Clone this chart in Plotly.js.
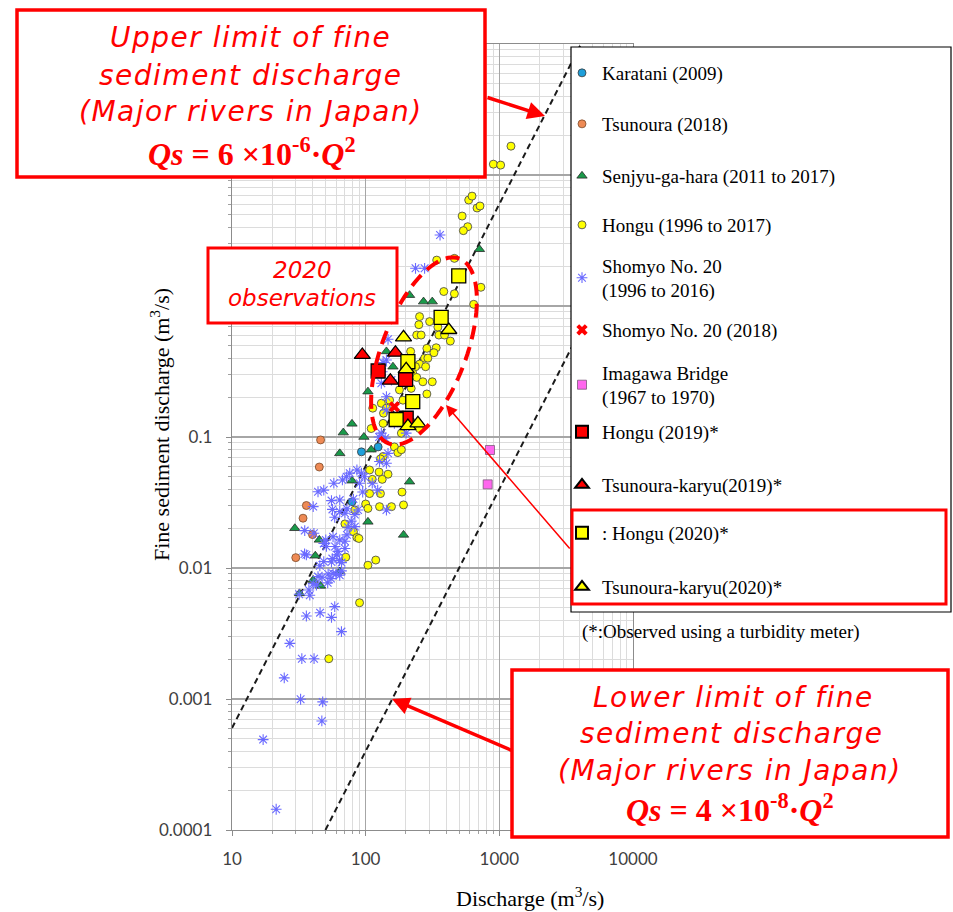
<!DOCTYPE html>
<html><head><meta charset="utf-8">
<script src="https://cdn.plot.ly/plotly-3.0.1.min.js"></script>
<style>html,body{margin:0;padding:0;background:#fff}#chart{width:953px;height:912px}</style>
</head><body><div id="chart"></div>
<script>
// ---------------- DATA ----------------
const seriesNames = [
  'Karatani (2009)', 'Tsunoura (2018)', 'Senjyu-ga-hara (2011 to 2017)', 'Hongu (1996 to 2017)',
  'Shomyo No. 20<br>(1996 to 2016)', 'Shomyo No. 20 (2018)', 'Imagawa Bridge<br>(1967 to 1970)',
  'Hongu (2019)*', 'Tsunoura-karyu(2019)*', ': Hongu (2020)*', 'Tsunoura-karyu(2020)*'
];

const karataniQ  = [93, 124, 79];
const karataniQs = [0.077, 0.084, 0.032];

const tsunouraQ  = [46, 45, 36, 34, 40, 30];
const tsunouraQs = [0.095, 0.059, 0.030, 0.024, 0.018, 0.012];

const senjyuQ  = [710, 213, 271, 315, 143, 160, 104, 79, 68, 97, 64, 110, 213, 192, 104, 29.5, 45, 42, 64, 79, 40.5, 46, 32];
const senjyuQs = [2.71, 1.21, 1.08, 1.08, 0.45, 0.344, 0.222, 0.126, 0.108, 0.10, 0.075, 0.08, 0.0456, 0.0179, 0.0225, 0.0201, 0.0164, 0.0124, 0.0094, 0.0464, 0.0081, 0.0073, 0.0064];

const honguQ  = [1222, 902, 1023, 590, 625, 681, 717, 527, 580, 538, 340, 461, 728, 384, 461, 643, 253, 250, 301, 347,
  241, 260, 353, 389, 430, 217, 287, 337, 324, 276, 292, 253, 236, 281, 225, 241, 268, 315, 179, 219,
  287, 190, 151, 131, 113, 143, 136, 190, 135, 110, 185, 219, 253, 164, 174, 185, 135, 129, 107, 126,
  147, 112, 133, 107, 129, 187, 100, 104, 83, 127, 156, 192, 70, 81, 86, 89, 71, 119, 104, 90, 53];
const honguQs = [16.6, 12.1, 11.9, 6.44, 6.9, 5.6, 5.8, 4.86, 4.03, 3.76, 2.24, 2.31, 1.39, 1.29, 1.24, 1.03, 0.83, 0.72, 0.76, 0.69,
  0.60, 0.60, 0.60, 0.60, 0.54, 0.45, 0.475, 0.48, 0.44, 0.40, 0.40, 0.36, 0.344, 0.344, 0.306, 0.285, 0.264, 0.264, 0.229, 0.235,
  0.213, 0.191, 0.191, 0.181, 0.166, 0.166, 0.152, 0.147, 0.127, 0.116, 0.107, 0.131, 0.116, 0.084, 0.076, 0.080, 0.071, 0.068, 0.056, 0.054,
  0.052, 0.0475, 0.0475, 0.037, 0.037, 0.038, 0.0308, 0.0285, 0.0277, 0.0294, 0.0294, 0.0303, 0.0217, 0.0189, 0.0171, 0.0168, 0.0121, 0.0115, 0.0105, 0.00543, 0.00203];

const shomyoQ  = [17.1, 21.4, 24.6, 27.1, 32.6, 33.3, 41.1, 47.7, 47, 36, 45.6, 55.5, 58.7, 65.9, 38.2, 37.6, 47.2, 45.4, 55.5, 57,
  64, 42.8, 31.8, 44, 40.5, 52.4, 60, 65.9, 48.6, 56.3, 63.7, 50.9, 59, 62, 70, 61, 34.9, 48.6, 50.3, 57,
  64, 70, 72.4, 73.8, 83, 78, 83, 87.7, 58.7, 56.4, 64, 64, 70, 72.4, 40.5, 55.5, 44, 48.6, 57.8, 67,
  72, 76, 86, 93, 98, 90, 112, 81, 95, 123, 143, 127, 126, 143, 35, 41, 36, 66, 52, 55,
  147, 143, 133, 131, 143, 131, 147, 201, 164, 360, 236, 276, 143, 156, 135, 140];
const shomyoQs = [0.00049, 0.000144, 0.00145, 0.00266, 0.000996, 0.00203, 0.00203, 0.00095, 0.00068, 0.0043, 0.00456, 0.0042, 0.00507, 0.00327, 0.0062, 0.0068, 0.0085, 0.0104, 0.0111, 0.0091,
  0.0088, 0.0074, 0.0063, 0.0086, 0.0076, 0.009, 0.009, 0.0095, 0.0112, 0.0118, 0.0114, 0.0146, 0.0146, 0.0134, 0.0141, 0.0126, 0.0128, 0.0154, 0.0164, 0.0173,
  0.0164, 0.016, 0.0179, 0.0205, 0.0207, 0.0228, 0.0256, 0.0277, 0.0244, 0.028, 0.033, 0.027, 0.0262, 0.0283, 0.0294, 0.0327, 0.0382, 0.0393, 0.0444, 0.047,
  0.0497, 0.053, 0.056, 0.053, 0.0497, 0.0444, 0.0444, 0.0336, 0.038, 0.0393, 0.063, 0.065, 0.10, 0.0277, 0.0193, 0.0184, 0.0126, 0.011, 0.0077, 0.0083,
  0.557, 0.387, 0.315, 0.257, 0.161, 0.107, 0.075, 0.107, 0.127, 3.48, 1.94, 1.94, 0.203, 0.272, 0.37, 0.098];

const shomyo2018Q  = [164];
const shomyo2018Qs = [0.17];

const imagawaQ  = [851, 818];
const imagawaQs = [0.0796, 0.0435];

const hongu2019Q  = [124, 199, 201];
const hongu2019Qs = [0.319, 0.275, 0.139];

const tk2019Q  = [94.4, 167, 153];
const tk2019Qs = [0.423, 0.44, 0.269];

const hongu2020Q  = [497, 367, 207, 225, 169];
const hongu2020Qs = [1.70, 0.82, 0.376, 0.186, 0.136];

const tk2020Q  = [419, 192, 201, 207, 246];
const tk2020Qs = [0.656, 0.577, 0.329, 0.121, 0.127];

// limit lines: Qs = 6e-6 Q^2 and Qs = 4e-8 Q^2 (end points)
const upperQ  = [10, 4082];
const upperQs = [0.0006, 100];
const lowerQ  = [50, 10000];
const lowerQs = [0.0001, 4];

const xTickVals = [10, 100, 1000, 10000];
const xTickText = ['10', '100', '1000', '10000'];
const yTickVals = [0.0001, 0.001, 0.01, 0.1, 1, 10, 100];
const yTickText = ['0.0001', '0.001', '0.01', '0.1', '', '', ''];   // 1, 10, 100 hidden behind the callout boxes

// ---------------- LAYOUT HELPERS ----------------
const W = 953, H = 912;
const fx = p => p / W, fy = p => 1 - p / H;
const RED = '#ff0000';

const xMinor = [], yMinor = [];
[10, 100, 1000].forEach(d => { for (let m = 2; m <= 9; m++) xMinor.push(d * m); });
[1e-4, 1e-3, 1e-2, 1e-1, 1, 10].forEach(d => { for (let m = 2; m <= 9; m++) yMinor.push(+(d * m).toPrecision(3)); });

const legendIds = seriesNames.map((n, i) => i === 0 ? 'legend' : 'legend' + (i + 1));
const legendCenters = [73, 124, 176, 225, 278, 330, 385, 432, 485, 533, 587];

function sc(i, x, y, marker) {
  return { type: 'scatter', mode: 'markers', name: seriesNames[i], x: x, y: y, marker: marker,
           legend: legendIds[i], showlegend: true, hoverinfo: 'x+y+name', cliponaxis: true };
}
const dashLine = { color: '#1a1a1a', width: 2, dash: '6px,4px' };

const traces = [
  { type: 'scatter', mode: 'lines', x: upperQ, y: upperQs, line: dashLine, showlegend: false, hoverinfo: 'skip' },
  { type: 'scatter', mode: 'lines', x: lowerQ, y: lowerQs, line: dashLine, showlegend: false, hoverinfo: 'skip' },
  sc(0, karataniQ, karataniQs, { symbol: 'circle', size: 8, color: '#1e9fda', line: { color: '#3a3a3a', width: 0.8 } }),
  sc(1, tsunouraQ, tsunouraQs, { symbol: 'circle', size: 8, color: '#ee8a55', line: { color: '#7a4a2a', width: 0.8 } }),
  sc(2, senjyuQ, senjyuQs, { symbol: 'triangle-up', size: 9, color: '#1a9a4a', line: { color: '#2a2a2a', width: 0.8 } }),
  sc(3, honguQ, honguQs, { symbol: 'circle', size: 8, color: '#ffff00', line: { color: '#505050', width: 0.9 } }),
  sc(4, shomyoQ, shomyoQs, { symbol: 'asterisk-open', size: 9, color: '#6a6aff', line: { color: '#6a6aff', width: 1.1 } }),
  sc(5, shomyo2018Q, shomyo2018Qs, { symbol: 'x', size: 10, color: RED, line: { width: 0 } }),
  sc(6, imagawaQ, imagawaQs, { symbol: 'square', size: 9, color: '#ff66ee', line: { color: '#7a5a7a', width: 0.8 } }),
  sc(7, hongu2019Q, hongu2019Qs, { symbol: 'square', size: 14, color: RED, line: { color: '#000', width: 1.3 } }),
  sc(8, tk2019Q, tk2019Qs, { symbol: 'triangle-up', size: 14, color: RED, line: { color: '#000', width: 1.3 } }),
  sc(9, hongu2020Q, hongu2020Qs, { symbol: 'square', size: 14, color: '#ffff00', line: { color: '#000', width: 1.3 } }),
  sc(10, tk2020Q, tk2020Qs, { symbol: 'triangle-up', size: 14, color: '#ffff00', line: { color: '#000', width: 1.3 } })
];

// ellipse around 2020 observations (pixel geometry -> paper)
const ell = { cx: 424, cy: 351, a: 99, b: 42, th: 69 * Math.PI / 180 };
let ellPath = '';
for (let i = 0; i <= 96; i++) {
  const t = i / 96 * 2 * Math.PI;
  const X = ell.cx + ell.a * Math.cos(ell.th) * Math.cos(t) - ell.b * Math.sin(ell.th) * Math.sin(t);
  const Y = ell.cy - (ell.a * Math.sin(ell.th) * Math.cos(t) + ell.b * Math.cos(ell.th) * Math.sin(t));
  ellPath += (i ? 'L' : 'M') + fx(X).toFixed(5) + ',' + fy(Y).toFixed(5);
}
ellPath += 'Z';

function rect(x0, y0, x1, y1, color, width) {
  return { type: 'rect', xref: 'paper', yref: 'paper', x0: fx(x0), x1: fx(x1), y0: fy(y1), y1: fy(y0),
           fillcolor: '#ffffff', line: { color: color, width: width }, layer: 'above' };
}
const shapes = [
  { type: 'path', xref: 'paper', yref: 'paper', path: ellPath, line: { color: RED, width: 4, dash: '14px,8px' }, layer: 'above' },
  rect(17, 10, 485, 177, RED, 3.5),
  rect(208, 248, 397, 323, RED, 3),
  rect(512, 670, 948, 837, RED, 3.5),
  rect(571, 47, 951, 612, '#000000', 1.2),
  Object.assign(rect(572, 510, 946, 604, RED, 3), { fillcolor: 'rgba(0,0,0,0)' })
];

const popFont = s => ({ family: 'DejaVu Sans', size: s, color: RED, style: 'italic' });
const fmFont = s => ({ family: 'Liberation Serif', size: s, color: RED, weight: 'bold' });
function txt(px, py, text, font, extra) {
  return Object.assign({ xref: 'paper', yref: 'paper', x: fx(px), y: fy(py), text: text, showarrow: false,
                         xanchor: 'center', yanchor: 'middle', font: font }, extra || {});
}
const ls = s => '<span style="letter-spacing:1.5px">' + s + '</span>';
function arrow(hx, hy, tx, ty, w, size) {
  return { xref: 'paper', yref: 'paper', x: fx(hx), y: fy(hy), ax: tx - hx, ay: ty - hy, text: '',
           showarrow: true, arrowhead: 2, arrowsize: size, arrowwidth: w, arrowcolor: RED, standoff: 0 };
}

const annotations = [
  txt(250, 38, ls('Upper limit of fine'), popFont(28)),
  txt(250, 75, ls('sediment discharge'), popFont(28)),
  txt(251, 112, ls('(Major rivers in Japan)'), popFont(28)),
  txt(252, 152, '<i>Qs</i> = 6 ×10<sup>-6</sup>·<i>Q</i><sup>2</sup>', fmFont(32)),
  txt(302, 270, '2020', popFont(23)),
  txt(302, 298, 'observations', popFont(23)),
  txt(733, 697, ls('Lower limit of fine'), popFont(28)),
  txt(731, 733, ls('sediment discharge'), popFont(28)),
  txt(730, 770, ls('(Major rivers in Japan)'), popFont(28)),
  txt(730, 808, '<i>Qs</i> = 4 ×10<sup>-8</sup>·<i>Q</i><sup>2</sup>', fmFont(32)),
  arrow(545, 116, 486, 97, 3.5, 1),
  arrow(392, 699, 513, 751, 3.5, 1),
  arrow(446, 405, 571, 550, 1.5, 1.5),
  txt(721, 632, '(*:Observed using a turbidity meter)', { family: 'Liberation Serif', size: 19, color: '#000' }),
  txt(530, 897, 'Discharge (m<sup>3</sup>/s)', { family: 'Liberation Serif', size: 22, color: '#000' }),
  txt(160, 425, 'Fine sediment discharge (m<sup>3</sup>/s)', { family: 'Liberation Serif', size: 22, color: '#000' }, { textangle: -90 })
];

const axisCommon = {
  type: 'log', tickmode: 'array', ticks: 'outside', ticklen: 5, tickcolor: '#8c8c8c', tickwidth: 1,
  tickfont: { family: 'Lato', size: 17, color: '#404040' },
  showgrid: true, gridcolor: '#a6a6a6', gridwidth: 1.3,
  showline: true, linecolor: '#8c8c8c', linewidth: 1.3, mirror: true, zeroline: false, fixedrange: true
};

const layout = {
  width: W, height: H, margin: { l: 0, r: 0, t: 0, b: 0 },
  paper_bgcolor: '#ffffff', plot_bgcolor: '#ffffff',
  xaxis: Object.assign({}, axisCommon, {
    range: [1, 4], domain: [fx(232), fx(633)], tickvals: xTickVals, ticktext: xTickText, ticklabelstandoff: 8,
    minor: { tickmode: 'array', tickvals: xMinor, ticks: 'outside', ticklen: 3, tickcolor: '#a0a0a0', showgrid: true, gridcolor: '#dcdcdc', gridwidth: 1 }
  }),
  yaxis: Object.assign({}, axisCommon, {
    range: [-4, 2], domain: [fy(830), fy(44)], tickvals: yTickVals, ticktext: yTickText, ticklabelstandoff: 10,
    minor: { tickmode: 'array', tickvals: yMinor, ticks: 'outside', ticklen: 3, tickcolor: '#a0a0a0', showgrid: true, gridcolor: '#dcdcdc', gridwidth: 1 }
  }),
  shapes: shapes,
  annotations: annotations,
  showlegend: true
};
legendIds.forEach((id, i) => {
  layout[id] = {
    x: fx(562), xanchor: 'left', y: fy(legendCenters[i]), yanchor: 'middle',
    bgcolor: 'rgba(0,0,0,0)', borderwidth: 0, itemsizing: i >= 7 ? 'constant' : 'trace',
    font: { family: 'Liberation Serif', size: 19, color: '#000' }, valign: 'middle'
  };
});

Plotly.newPlot('chart', traces, layout, { displayModeBar: false, staticPlot: true });
</script></body></html>
